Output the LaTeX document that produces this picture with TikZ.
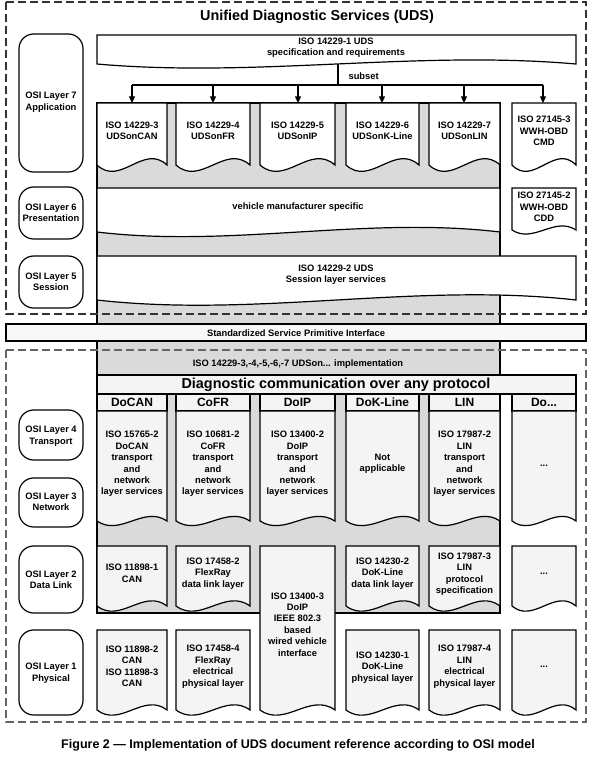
\documentclass[tikz,border=0pt]{standalone}
\usepackage{fontspec}
\setmainfont{Liberation Sans}
\usetikzlibrary{arrows.meta}
\definecolor{greybg}{RGB}{218,218,218}
\definecolor{lightfill}{RGB}{244,244,244}
\definecolor{ifill}{RGB}{248,248,248}
\newcommand\docshape[6]{\draw[#6] (#1,#2) -- (#3,#2) -- (#3,#4) .. controls ({#3-(#3-#1)/3},{#4-#5}) and ({#1+(#3-#1)/3},{#4+#5}) .. (#1,#4) -- cycle;}
\tikzset{
  txt/.style={font=\bfseries\fontsize{7}{8.6}\selectfont, align=center, inner sep=0pt},
  hdr/.style={font=\bfseries\fontsize{9}{10}\selectfont, align=center, inner sep=0pt},
  bigtxt/.style={font=\bfseries\fontsize{10.8}{12}\selectfont, align=center, inner sep=0pt},
  captxt/.style={font=\bfseries\fontsize{9.4}{11}\selectfont, align=center, inner sep=0pt},
  osibox/.style={draw, rounded corners=11pt, fill=white},
  docw/.style={draw, fill=white},
  docl/.style={draw, fill=lightfill},
  dashbox/.style={dash pattern=on 6pt off 3pt},
  arr/.style={-{Triangle[length=5pt,width=4.5pt]}}
}
\begin{document}
\begin{tikzpicture}[x=0.75pt,y=-0.75pt,line width=0.9pt]
\useasboundingbox (0,0) rectangle (593,765);
\fill[white] (0,0) rectangle (593,765);
% grey region
\draw[fill=greybg] (97,103) rectangle (500,613);
% dashed frames
\draw[dashbox, draw=black!80] (6,2) rectangle (586,314);
\draw[dashbox, draw=black!60] (6,350) rectangle (586,722);
% title
\node[bigtxt] (title) at (317,17) {Unified Diagnostic Services (UDS)};
% spec box
\docshape{97}{35}{576}{64}{14}{docw}
\node[txt] (spec) at (336,47.5) {ISO 14229-1 UDS\\specification and requirements};
\coordinate (stem) at (338,64);
\coordinate (bus) at (338,85);
\coordinate (busL) at (132,85);
\coordinate (busR) at (543,85);
\draw (stem) -- (bus);
\draw (busL) -- (busR);
\node[txt, anchor=west] (subset) at (348,76) {subset};
\foreach \i/\x in {1/132,2/213,3/298,4/382,5/464,6/543}{
  \coordinate (a\i) at (\x,85);
  \coordinate (t\i) at (\x,103);
  \draw[arr] (a\i) -- (t\i);
}
% layer 7 boxes
\docshape{97}{103}{167}{165}{22}{docw}
\docshape{176}{103}{250}{165}{22}{docw}
\docshape{260}{103}{335}{165}{22}{docw}
\docshape{346}{103}{419}{165}{22}{docw}
\docshape{429}{103}{500}{165}{22}{docw}
\docshape{512}{103}{576}{165}{22}{docw}
\node[txt] (u3) at (132,131) {ISO 14229-3\\UDSonCAN};
\node[txt] (u4) at (213,131) {ISO 14229-4\\UDSonFR};
\node[txt] (u5) at (297.5,131) {ISO 14229-5\\UDSonIP};
\node[txt] (u6) at (382.5,131) {ISO 14229-6\\UDSonK-Line};
\node[txt] (u7) at (464.5,131) {ISO 14229-7\\UDSonLIN};
\node[txt] (w3) at (544,131) {ISO 27145-3\\WWH-OBD\\CMD};
% layer 6
\docshape{97}{188}{500}{232}{16}{docw}
\node[txt] (vms) at (298,207) {vehicle manufacturer specific};
\docshape{512}{188}{576}{230}{14}{docw}
\node[txt] (w2) at (544,207) {ISO 27145-2\\WWH-OBD\\CDD};
% layer 5
\docshape{97}{256}{576}{300}{18}{docw}
\node[txt] (sess) at (336,274.5) {ISO 14229-2 UDS\\Session layer services};
% OSI labels
\draw[osibox] (19,34) rectangle (83,172);
\node[txt] (l7) at (51,102) {OSI Layer 7\\Application};
\draw[osibox] (19,187) rectangle (83,239);
\node[txt] (l6) at (51,213) {OSI Layer 6\\Presentation};
\draw[osibox] (19,256) rectangle (83,308);
\node[txt] (l5) at (51,282) {OSI Layer 5\\Session};
\draw[osibox] (19,410) rectangle (83,460);
\node[txt] (l4) at (51,436) {OSI Layer 4\\Transport};
\draw[osibox] (19,478) rectangle (83,527);
\node[txt] (l3) at (51,502) {OSI Layer 3\\Network};
\draw[osibox] (19,546) rectangle (83,613);
\node[txt] (l2) at (51,580) {OSI Layer 2\\Data Link};
\draw[osibox] (19,630) rectangle (83,715);
\node[txt] (l1) at (51,673) {OSI Layer 1\\Physical};
% interface
\draw[fill=ifill] (6,324) rectangle (586,341);
\node[txt] (sspi) at (296,333) {Standardized Service Primitive Interface};
\node[txt] (impl) at (298,364) {ISO 14229-3,-4,-5,-6,-7 UDSon... implementation};
% diagnostic communication
\draw[fill=lightfill] (97,375) rectangle (576,394);
\node[bigtxt] (diag) at (336,385) {Diagnostic communication over any protocol};
% headers
\foreach \a/\b/\n/\t in {97/167/h1/DoCAN,176/250/h2/CoFR,260/335/h3/DoIP,346/419/h4/DoK-Line,429/500/h5/LIN}{
  \draw[fill=lightfill] (\a,394) rectangle (\b,411);
  \node[hdr] (\n) at ({(\a+\b)/2},402.5) {\t};
}
\draw[fill=lightfill] (512,394) rectangle (576,411);
\node[hdr] (h6) at (544,402.5) {Do...};
% transport/network row
\foreach \a/\b in {97/167,176/250,260/335,346/419,429/500,512/576}{
  \docshape{\a}{411}{\b}{521}{16}{docl}
}
\node[txt] (tn1) at (132,464) {ISO 15765-2\\DoCAN\\transport\\and\\network\\layer services};
\node[txt] (tn2) at (213,464) {ISO 10681-2\\CoFR\\transport\\and\\network\\layer services};
\node[txt] (tn3) at (297.5,464) {ISO 13400-2\\DoIP\\transport\\and\\network\\layer services};
\node[txt] (tn4) at (382.5,463.5) {Not\\applicable};
\node[txt] (tn5) at (464.5,464) {ISO 17987-2\\LIN\\transport\\and\\network\\layer services};
\node[txt] (tn6) at (544,466) {...};
% data link row
\foreach \a/\b in {97/167,176/250,346/419,429/500,512/576}{
  \docshape{\a}{546}{\b}{606}{18}{docl}
}
\node[txt] (dl1) at (132,573.5) {ISO 11898-1\\CAN};
\node[txt] (dl2) at (213,573.5) {ISO 17458-2\\FlexRay\\data link layer};
\node[txt] (dl4) at (382.5,573.5) {ISO 14230-2\\DoK-Line\\data link layer};
\node[txt] (dl5) at (464.5,574) {ISO 17987-3\\LIN\\protocol\\specification};
\node[txt] (dl6) at (544,574) {...};
% DoIP physical/data link
\docshape{260}{546}{335}{710}{18}{docl}
\node[txt] (dp3) at (297.5,624.5) {ISO 13400-3\\DoIP\\IEEE 802.3\\based\\wired vehicle\\interface};
% physical row
\foreach \a/\b in {97/167,176/250,346/419,429/500,512/576}{
  \docshape{\a}{630}{\b}{710}{18}{docl}
}
\node[txt] (ph1) at (132,666.5) {ISO 11898-2\\CAN\\ISO 11898-3\\CAN};
\node[txt] (ph2) at (213,666.5) {ISO 17458-4\\FlexRay\\electrical\\physical layer};
\node[txt] (ph4) at (382.5,667.5) {ISO 14230-1\\DoK-Line\\physical layer};
\node[txt] (ph5) at (464.5,666.5) {ISO 17987-4\\LIN\\electrical\\physical layer};
\node[txt] (ph6) at (544,667) {...};
% caption
\node[captxt] (cap) at (298,745) {Figure 2 --- Implementation of UDS document reference according to OSI model};
\end{tikzpicture}
\end{document}
